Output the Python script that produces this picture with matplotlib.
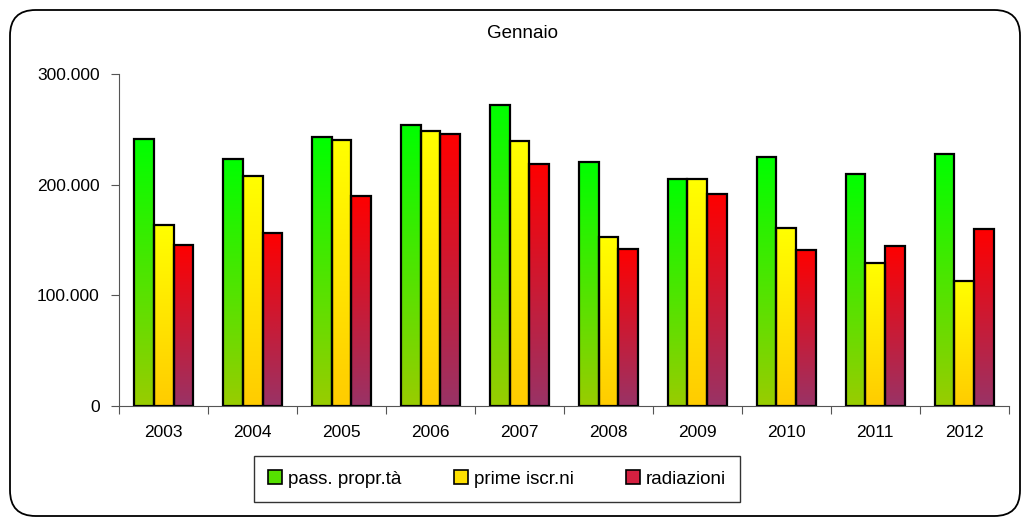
import numpy as np
import matplotlib
matplotlib.use("Agg")
import matplotlib.pyplot as plt
from matplotlib.colors import LinearSegmentedColormap
from matplotlib.patches import FancyBboxPatch, Patch

plt.rcParams['font.family'] = ['Liberation Sans', 'DejaVu Sans']

# data
years = ['2003', '2004', '2005', '2006', '2007', '2008', '2009', '2010', '2011', '2012']
pass_propr = [241000, 223000, 243000, 254000, 272000, 220500, 205000, 224700, 210000, 228000]
prime_iscr = [164000, 208000, 240000, 248500, 239500, 153000, 205000, 160500, 129000, 113000]
radiazioni = [145500, 156600, 190000, 246000, 219000, 142000, 191600, 140700, 144600, 159600]
series_names = ['pass. propr.tà', 'prime iscr.ni', 'radiazioni']
y_ticks = [0, 100000, 200000, 300000]
y_labels = ['0', '100.000', '200.000', '300.000']

# (bottom colour, top colour) of each gradient
grads = [('#99CC00', '#00FF00'), ('#FFCC00', '#FFFF00'), ('#993366', '#FF0000')]
legend_cols = ['#55e000', '#ffe000', '#d42040']

fig = plt.figure(figsize=(10.26, 5.26), dpi=100)
ax = fig.add_axes([119.3/1026, 1-406/526, (1008.6-119.3)/1026, (406-74)/526])

x = np.arange(len(years))
w = 0.222
grad = np.linspace(0, 1, 256).reshape(-1, 1)
for i, vals in enumerate([pass_propr, prime_iscr, radiazioni]):
    cmap = LinearSegmentedColormap.from_list('g%d' % i, grads[i])
    xs = x + (i - 1) * w
    for xi, v in zip(xs, vals):
        ax.imshow(grad, cmap=cmap, origin='lower', aspect='auto',
                  extent=(xi - w/2, xi + w/2, 0, v), zorder=2)
    ax.bar(xs, vals, w, facecolor='none', edgecolor='black', linewidth=1.6, zorder=3)

ax.set_xlim(-0.5, len(years) - 0.5)
ax.set_ylim(0, 300000)
ax.set_yticks(y_ticks)
ax.set_yticklabels(y_labels, fontsize=12.5)
ax.set_xticks(np.arange(len(years) + 1) - 0.5)
ax.set_xticklabels([])
ax.set_xticks(x, minor=True)
ax.set_xticklabels(years, minor=True, fontsize=12.5)
ax.tick_params(axis='x', which='minor', length=0, pad=14)
ax.tick_params(axis='x', which='major', length=6, color='#555555')
ax.tick_params(axis='y', length=6, color='#555555', pad=8)
for s in ['top', 'right']:
    ax.spines[s].set_visible(False)
for s in ['left', 'bottom']:
    ax.spines[s].set_color('#555555')

fig.text(522/1026, 1-34/526, 'Gennaio', ha='center', va='center', fontsize=13.5)

handles = [Patch(facecolor=c, edgecolor='black', linewidth=1.2) for c in legend_cols]
leg = fig.legend(handles, series_names, loc='center', ncol=3,
                 bbox_to_anchor=(497/1026, 1-479/526), fontsize=13.5,
                 frameon=True, fancybox=False, edgecolor='black',
                 handlelength=0.75, handleheight=0.75, handletextpad=0.3,
                 columnspacing=2.8, borderpad=0.75)
leg.get_frame().set_linewidth(1.0)

# rounded outer border
border = FancyBboxPatch((10/1026, 10/526), 1010/1026, 506/526,
                        boxstyle='round,pad=0,rounding_size=0.025',
                        transform=fig.transFigure, facecolor='none',
                        edgecolor='black', linewidth=1.3, mutation_aspect=1026/526)
fig.patches.append(border)

fig.savefig('out.png', dpi=100)
